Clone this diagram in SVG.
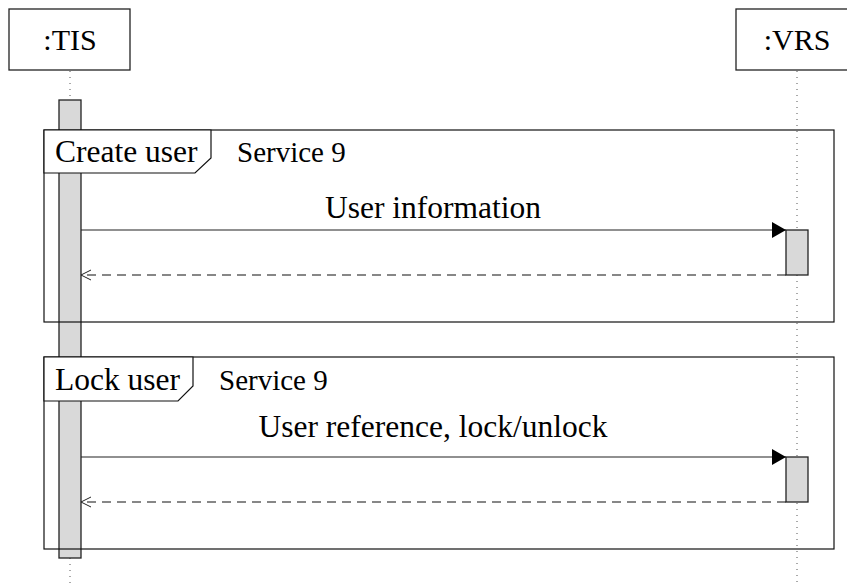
<svg xmlns="http://www.w3.org/2000/svg" width="847" height="587" viewBox="0 0 847 587">
<style>
.txt{font-family:'Liberation Serif','Tinos','Times New Roman','DejaVu Serif',serif;fill:#000}
.lbl{font-size:30px}
.tabl{font-size:31.5px}
.svc{font-size:29px}
.msg{font-size:31.5px}
.box{fill:#fff;stroke:#222;stroke-width:1.3}
.life{stroke:#555;stroke-width:1;stroke-dasharray:1 5;fill:none}
.act{fill:#d9d9d9;stroke:#222;stroke-width:1.3}
.frame{fill:none;stroke:#111;stroke-width:1.2}
.tab{fill:#fff;stroke:#111;stroke-width:1.2}
.call{stroke:#222;stroke-width:1.2;fill:none}
.ret{stroke:#111;stroke-width:1.1;stroke-dasharray:9 6;fill:none}
</style>
<defs>
<marker id="filled" markerWidth="14" markerHeight="16" refX="14" refY="8" orient="auto" markerUnits="userSpaceOnUse">
<path d="M0,0 L14,8 L0,16 Z" fill="#000"/>
</marker>
</defs>
<rect width="847" height="587" fill="#fff"/>

<g id="lifelines">
<line class="life" x1="70" y1="71" x2="70" y2="100"/>
<line class="life" x1="70" y1="558" x2="70" y2="587"/>
<line class="life" x1="797" y1="71" x2="797" y2="587"/>
</g>

<g id="node-TIS">
<rect class="box" x="9" y="9" width="121" height="61"/>
<text class="txt lbl" x="70" y="50" text-anchor="middle">:TIS</text>
</g>
<g id="node-VRS">
<rect class="box" x="736" y="9" width="122" height="61"/>
<text class="txt lbl" x="797" y="50" text-anchor="middle">:VRS</text>
</g>

<g id="activation-TIS">
<rect class="act" x="59" y="100" width="22" height="458"/>
</g>
<g id="activation-VRS-1">
<rect class="act" x="786" y="230" width="22" height="45"/>
</g>
<g id="activation-VRS-2">
<rect class="act" x="786" y="457" width="22" height="45"/>
</g>

<g id="frame-create-user">
<rect class="frame" x="44" y="130" width="790" height="192"/>
<path class="tab" d="M44,130 H211 V158 L195,173 H44 Z"/>
<text class="txt tabl" x="55" y="162">Create user</text>
<text class="txt svc" x="237" y="162">Service 9</text>
</g>
<g id="frame-lock-user">
<rect class="frame" x="44" y="357" width="790" height="192"/>
<path class="tab" d="M44,357 H193 V386 L178,401 H44 Z"/>
<text class="txt tabl" x="55" y="390">Lock user</text>
<text class="txt svc" x="219" y="390">Service 9</text>
</g>

<g id="connectors">
<line class="call" x1="81" y1="230" x2="786" y2="230" marker-end="url(#filled)"/>
<text class="txt msg" x="433" y="218" text-anchor="middle">User information</text>
<line class="ret" x1="786" y1="275" x2="81" y2="275"/>
<path d="M91,270 L81,275 L91,280" fill="none" stroke="#222" stroke-width="1"/>
<line class="call" x1="81" y1="457" x2="786" y2="457" marker-end="url(#filled)"/>
<text class="txt msg" x="433" y="437" text-anchor="middle">User reference, lock/unlock</text>
<line class="ret" x1="786" y1="502" x2="81" y2="502"/>
<path d="M91,497 L81,502 L91,507" fill="none" stroke="#222" stroke-width="1"/>
</g>
</svg>
